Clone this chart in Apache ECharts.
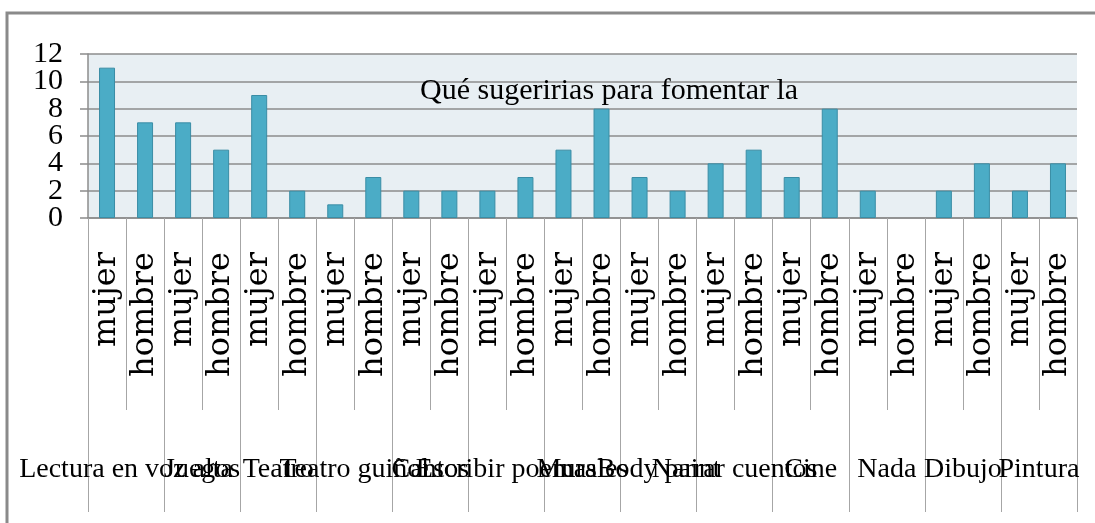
<!DOCTYPE html>
<html>
<head>
<meta charset="utf-8">
<script src="https://cdn.jsdelivr.net/npm/echarts@6/dist/echarts.min.js"></script>
<style>
  html, body { margin: 0; padding: 0; background: #fff; }
  #chart { width: 1095px; height: 523px; }
</style>
</head>
<body>
<div id="chart"></div>
<script>
// grupos (nivel inferior del eje) y sexo (nivel superior)
var grupos = ['Lectura en voz alta', 'Juegos', 'Teatro', 'Teatro guiñol', 'Cantos', 'Escribir poemas',
	'Murales', 'Body paint', 'Narrar cuentos', 'Cine', 'Nada', 'Dibujo', 'Pintura'];
var sexos = ['mujer', 'hombre'];

var valoresMujer  = [11, 7, 9, 1, 2, 2, 5, 3, 4, 3, 2, 2, 2];
var valoresHombre = [ 7, 5, 2, 3, 2, 3, 8, 2, 5, 8, 0, 4, 4];

var yTicks = [0, 2, 4, 6, 8, 10, 12];

var titulo = 'Qué sugeririas para fomentar la';

// una categoria por barra: mujer, hombre, mujer, hombre...
var categorias = [];
var valores = [];
for (var i = 0; i < grupos.length; i++) {
	categorias.push(sexos[0]);
	valores.push(valoresMujer[i]);
	categorias.push(sexos[1]);
	valores.push(valoresHombre[i] === 0 ? null : valoresHombre[i]);
}

var serif = '"Liberation Serif", "Times New Roman", serif';

// las etiquetas del eje Y se solapan como en el original; se reparten en dos ejes
// para que echarts no esconda ninguna
function ejeY(pares, mostrarLineas) {
	return {
		type: 'value',
		position: 'left',
		min: yTicks[0],
		max: yTicks[yTicks.length - 1],
		interval: 2,
		axisLine: { show: mostrarLineas, lineStyle: { color: '#8c8c8c', width: 1.5 } },
		axisTick: { show: mostrarLineas, length: 8, lineStyle: { color: '#8c8c8c', width: 1.5 } },
		splitLine: { show: mostrarLineas, lineStyle: { color: '#8c8c8c', width: 1.5 } },
		axisLabel: {
			margin: 25,
			showMinLabel: true,
			showMaxLabel: true,
			fontFamily: serif,
			fontSize: 30,
			color: '#000',
			formatter: function (v) {
				var k = yTicks.indexOf(v);
				return (k % 2 === 0) === pares ? String(v) : '';
			}
		}
	};
}

var option = {
	animation: false,
	backgroundColor: '#fff',
	title: {
		text: titulo,
		left: 415,
		top: 71,
		textStyle: {
			fontFamily: serif,
			fontSize: 30,
			fontWeight: 'normal',
			color: '#000'
		}
	},
	grid: {
		left: 88,
		right: 18,
		top: 54,
		bottom: 305,
		show: true,
		backgroundColor: '#E8EFF3',
		borderWidth: 0
	},
	xAxis: [{
		type: 'category',
		position: 'bottom',
		data: categorias,
		axisLine: { show: true, lineStyle: { color: '#8c8c8c', width: 1.5 } },
		axisTick: {
			show: true,
			interval: 0,
			length: 192,
			lineStyle: { color: '#a6a6a6', width: 1 }
		},
		axisLabel: {
			interval: 0,
			rotate: 90,
			margin: 34,
			fontFamily: '"DejaVu Serif", serif',
			fontSize: 32,
			color: '#000'
		}
	}, {
		type: 'category',
		position: 'bottom',
		data: grupos,
		axisLine: { show: false },
		axisTick: {
			show: true,
			interval: 0,
			length: 294,
			lineStyle: { color: '#a6a6a6', width: 1 }
		},
		axisLabel: {
			interval: 0,
			margin: 238,
			fontFamily: serif,
			fontSize: 28,
			color: '#000'
		}
	}],
	yAxis: [ejeY(true, true), ejeY(false, false)],
	series: [{
		type: 'bar',
		xAxisIndex: 0,
		yAxisIndex: 0,
		data: valores,
		barWidth: 16,
		itemStyle: {
			color: '#4BACC6',
			borderColor: '#3A8DA5',
			borderWidth: 1
		}
	}],
	graphic: [{
		type: 'rect',
		shape: { x: 7, y: 13, width: 1200, height: 600 },
		style: { fill: null, stroke: '#8a8a8a', lineWidth: 3 },
		z: 100
	}]
};

var chart = echarts.init(document.getElementById('chart'));
chart.setOption(option);
</script>
</body>
</html>
